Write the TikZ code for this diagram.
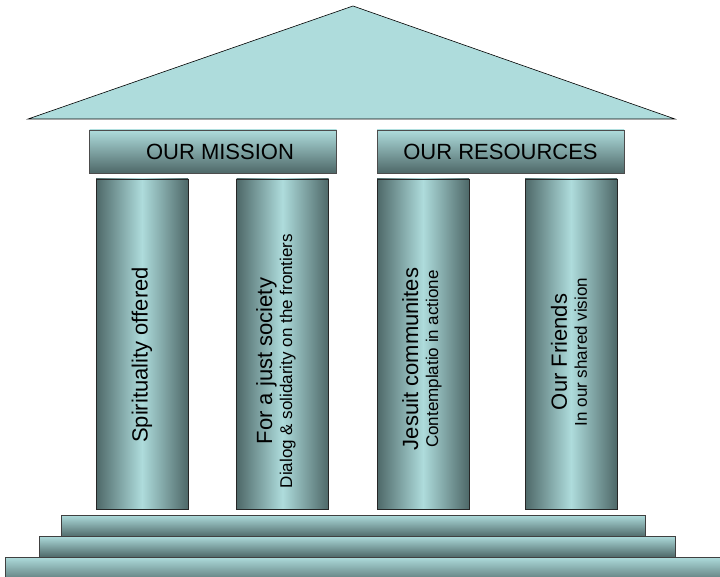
\documentclass[tikz,border=0pt]{standalone}
\usepackage{fontspec}
\setmainfont{Liberation Sans}
\usetikzlibrary{positioning,calc}
\definecolor{aqualt}{HTML}{AEDCDC}
\definecolor{aquadk}{HTML}{4E6868}

\begin{document}
\begin{tikzpicture}[
  x=1pt,y=-1pt,
  pillar/.style={draw=black!85,line width=0.7pt,minimum width=92pt,minimum height=330pt,inner sep=0pt,
                 left color=aquadk,right color=aquadk,middle color=aqualt},
  header/.style={draw=black!70,line width=0.7pt,minimum width=247pt,minimum height=43pt,inner sep=0pt,
                 top color=aqualt,bottom color=aquadk,font=\fontsize{22}{26}\selectfont},
  stair/.style={draw=black!75,line width=0.7pt,inner sep=0pt,top color=aqualt,bottom color=aquadk},
  roof/.style={draw=black,line width=0.6pt,fill=aqualt},
  words/.style={rotate=90,align=center,inner sep=0pt,font=\fontsize{17}{20}\selectfont},
  bigline/.style={font=\fontsize{22}{26}\selectfont}
]
\clip (0,0) rectangle (720,577);

% roof
\coordinate (eaveL) at (28,119);
\coordinate (apex)  at (353,6);
\coordinate (eaveR) at (675,119);
\draw[roof] (eaveL) -- (apex) -- (eaveR) -- cycle;

% architrave
\node[header] (mission)   at (213,151.5) {\hspace*{14pt}OUR MISSION};
\node[header] (resources) at (500.5,151.5) {OUR RESOURCES};

% pillars
\node[pillar] (col1) at (142,344) {};
\node[pillar] (col2) at (282.5,344) {};
\node[pillar] (col3) at (423,344) {};
\node[pillar] (col4) at (571,344) {};

\node[words,bigline] (txt1) at (142,355) {Spirituality offered};
\node[words] (txt2) at (276,361) {{\fontsize{22}{20}\selectfont For a just society}\\Dialog \& solidarity on the frontiers};
\node[words] (txt3) at (422,359) {{\fontsize{22}{20}\selectfont Jesuit communites}\\Contemplatio in actione};
\node[words] (txt4) at (569,352) {{\fontsize{22}{20}\selectfont Our Friends}\\In our shared vision};

% steps
\node[stair,minimum width=584pt,minimum height=22pt] (step1) at (353,526) {};
\node[stair,minimum width=636pt,minimum height=21pt] (step2) at (357,546.5) {};
\node[stair,minimum width=725pt,minimum height=28pt] (step3) at (367.5,571) {};
\end{tikzpicture}
\end{document}
